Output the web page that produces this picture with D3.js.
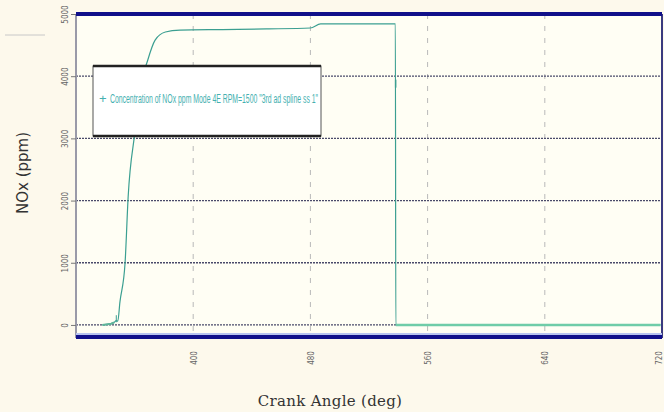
<!DOCTYPE html>
<html>
<head>
<meta charset="utf-8">
<script src="https://cdn.jsdelivr.net/npm/d3@7"></script>
<style>
  body { margin: 0; background: #fdf9ec; }
  svg { display: block; }
</style>
</head>
<body>
<svg width="664" height="412"></svg>
<script>
// crank angle (deg) and NOx (ppm)
var crankAngle = [338, 344, 346, 347.5, 348.5, 350, 353.5, 355.6, 360.4, 362.5, 369, 374, 381, 391, 420, 450, 480, 487, 510, 538, 538.3, 560, 600, 640, 719];
var noxPpm     = [0, 20, 40, 70, 60, 370, 1000, 2060, 3140, 3620, 4260, 4580, 4710, 4740, 4750, 4760, 4775, 4840, 4840, 4840, 0, 0, 0, 0, 0];
var xTicks = [400, 480, 560, 640, 720];
var yTicks = [0, 1000, 2000, 3000, 4000, 5000];
var legendText = "Concentration of NOx ppm Mode 4E  RPM=1500      \"3rd ad spline ss 1\"";

var svg = d3.select("svg"),
    margin = {top: 14, right: 2, bottom: 74, left: 76},
    width = +svg.attr("width") - margin.left - margin.right,
    height = +svg.attr("height") - margin.top - margin.bottom;

var x = d3.scaleLinear().domain([320, 720]).range([0, width]);
var y = d3.scaleLinear().domain([-210, 5000]).range([height, 0]);

// little grey stroke top left
svg.append("line").attr("x1", 5).attr("x2", 45).attr("y1", 35).attr("y2", 35)
    .attr("stroke", "#c8c8c8").attr("stroke-width", 1);

var g = svg.append("g").attr("transform", "translate(" + margin.left + "," + margin.top + ")");

g.append("rect").attr("width", width).attr("height", height).attr("fill", "#fffef4");

// vertical grid
g.selectAll(".vgrid").data(xTicks).enter().append("line")
    .attr("x1", function(d) { return x(d); }).attr("x2", function(d) { return x(d); })
    .attr("y1", 0).attr("y2", height)
    .attr("stroke", "#b9b9b9").attr("stroke-width", 1).attr("stroke-dasharray", "5,7");

// horizontal grid
g.selectAll(".hgrid").data(yTicks.slice(0, 5)).enter().append("line")
    .attr("x1", 0).attr("x2", width)
    .attr("y1", function(d) { return y(d); }).attr("y2", function(d) { return y(d); })
    .attr("stroke", "#4a4a6a").attr("stroke-width", 1.3).attr("stroke-dasharray", "2,1");

// curve
var line = d3.line()
    .curve(d3.curveMonotoneX)
    .x(function(d, i) { return x(crankAngle[i]); })
    .y(function(d) { return y(d); });

g.append("path").datum(noxPpm)
    .attr("d", line)
    .attr("fill", "none")
    .attr("stroke", "#3b9f91")
    .attr("stroke-width", 1.2);

// thicker plateau and floor
var top = noxPpm.map(function(d, i) { return i; }).filter(function(i) { return crankAngle[i] >= 374 && noxPpm[i] > 0; });
g.append("path").datum(top)
    .attr("d", d3.line().curve(d3.curveMonotoneX).x(function(i) { return x(crankAngle[i]); }).y(function(i) { return y(noxPpm[i]); }))
    .attr("fill", "none").attr("stroke", "#3a9a8e").attr("stroke-width", 2.4);
var floor = noxPpm.map(function(d, i) { return i; }).filter(function(i) { return crankAngle[i] > 538.2; });
g.append("path").datum(floor)
    .attr("d", d3.line().x(function(i) { return x(crankAngle[i]); }).y(function(i) { return y(noxPpm[i]); }))
    .attr("fill", "none").attr("stroke", "#6fcca8").attr("stroke-width", 2.5);
g.append("path").datum([0, 1, 2])
    .attr("d", d3.line().x(function(i) { return x(crankAngle[i]); }).y(function(i) { return y(noxPpm[i]); }))
    .attr("fill", "none").attr("stroke", "#5fb49a").attr("stroke-width", 2);

// small markers
g.append("line").attr("x1", x(347.5)).attr("x2", x(347.5))
    .attr("y1", y(60) - 6).attr("y2", y(60) + 1).attr("stroke", "#3b9f91");
g.append("line").attr("x1", x(538.2)).attr("x2", x(538.2))
    .attr("y1", y(3880) - 4).attr("y2", y(3880) + 4).attr("stroke", "#3b9f91").attr("stroke-width", 1.5);

// axes
g.append("line").attr("x1", 0).attr("x2", 0).attr("y1", 0).attr("y2", height)
    .attr("stroke", "#9a9aa8").attr("stroke-width", 2);
g.append("line").attr("x1", width).attr("x2", width).attr("y1", 0).attr("y2", height)
    .attr("stroke", "#3a3a80").attr("stroke-width", 2);
g.append("line").attr("x1", 0).attr("x2", width).attr("y1", 0).attr("y2", 0)
    .attr("stroke", "#10108a").attr("stroke-width", 4);
g.append("line").attr("x1", 0).attr("x2", width).attr("y1", height - 4).attr("y2", height - 4)
    .attr("stroke", "#b8c4f0").attr("stroke-width", 2);
g.append("line").attr("x1", 0).attr("x2", width).attr("y1", height - 1).attr("y2", height - 1)
    .attr("stroke", "#10108a").attr("stroke-width", 4);

var yAxis = g.append("g").call(d3.axisLeft(y).tickValues(yTicks).tickSize(5).tickFormat(d3.format("d")));
yAxis.select(".domain").remove();
yAxis.selectAll("line").attr("stroke", "#777");
yAxis.selectAll("text")
    .attr("fill", "#666").style("font", "8px 'Liberation Sans Narrow', 'DejaVu Sans Condensed', sans-serif")
    .attr("x", 0).attr("dy", 0)
    .attr("text-anchor", "middle")
    .attr("transform", "translate(-8,0) rotate(-90)");

var xAxis = g.append("g").attr("transform", "translate(0," + height + ")")
    .call(d3.axisBottom(x).tickValues(xTicks).tickSize(0).tickFormat(d3.format("d")));
xAxis.select(".domain").remove();
xAxis.selectAll("text")
    .attr("fill", "#666").style("font", "8px 'Liberation Sans Narrow', 'DejaVu Sans Condensed', sans-serif")
    .attr("y", 0).attr("dy", 0)
    .attr("text-anchor", "middle")
    .attr("transform", function(d) { return "translate(" + (d === 720 ? -1 : 3) + ",20) rotate(-90)"; });

// legend
var lg = g.append("g").attr("transform", "translate(17,52)");
lg.append("rect").attr("width", 228).attr("height", 70)
    .attr("fill", "#ffffff").attr("stroke", "#555").attr("stroke-width", 1);
lg.append("line").attr("x1", 0).attr("x2", 228).attr("y1", 0).attr("y2", 0).attr("stroke", "#222").attr("stroke-width", 2.5);
lg.append("line").attr("x1", 0).attr("x2", 228).attr("y1", 70).attr("y2", 70).attr("stroke", "#222").attr("stroke-width", 2.5);
lg.append("text").attr("x", 6).attr("y", 37)
    .attr("fill", "#45b0b0").style("font", "13px 'Liberation Sans Narrow', sans-serif")
    .text("+");
lg.append("text").attr("x", 17).attr("y", 37)
    .attr("fill", "#45b0b0").style("font", "12px 'Liberation Sans Narrow', sans-serif")
    .attr("textLength", 208).attr("lengthAdjust", "spacingAndGlyphs")
    .text(legendText);

// axis titles
svg.append("text")
    .attr("transform", "translate(28," + (margin.top + height / 2 - 3) + ") rotate(-90)")
    .attr("text-anchor", "middle")
    .attr("fill", "#333")
    .style("font", "15px 'DejaVu Sans', sans-serif")
    .text("NOx (ppm)");

svg.append("text")
    .attr("x", 330).attr("y", 406)
    .attr("text-anchor", "middle")
    .attr("fill", "#333")
    .style("font", "15px 'DejaVu Serif', serif")
    .style("letter-spacing", "0.3px")
    .text("Crank Angle (deg)");
</script>
</body>
</html>
